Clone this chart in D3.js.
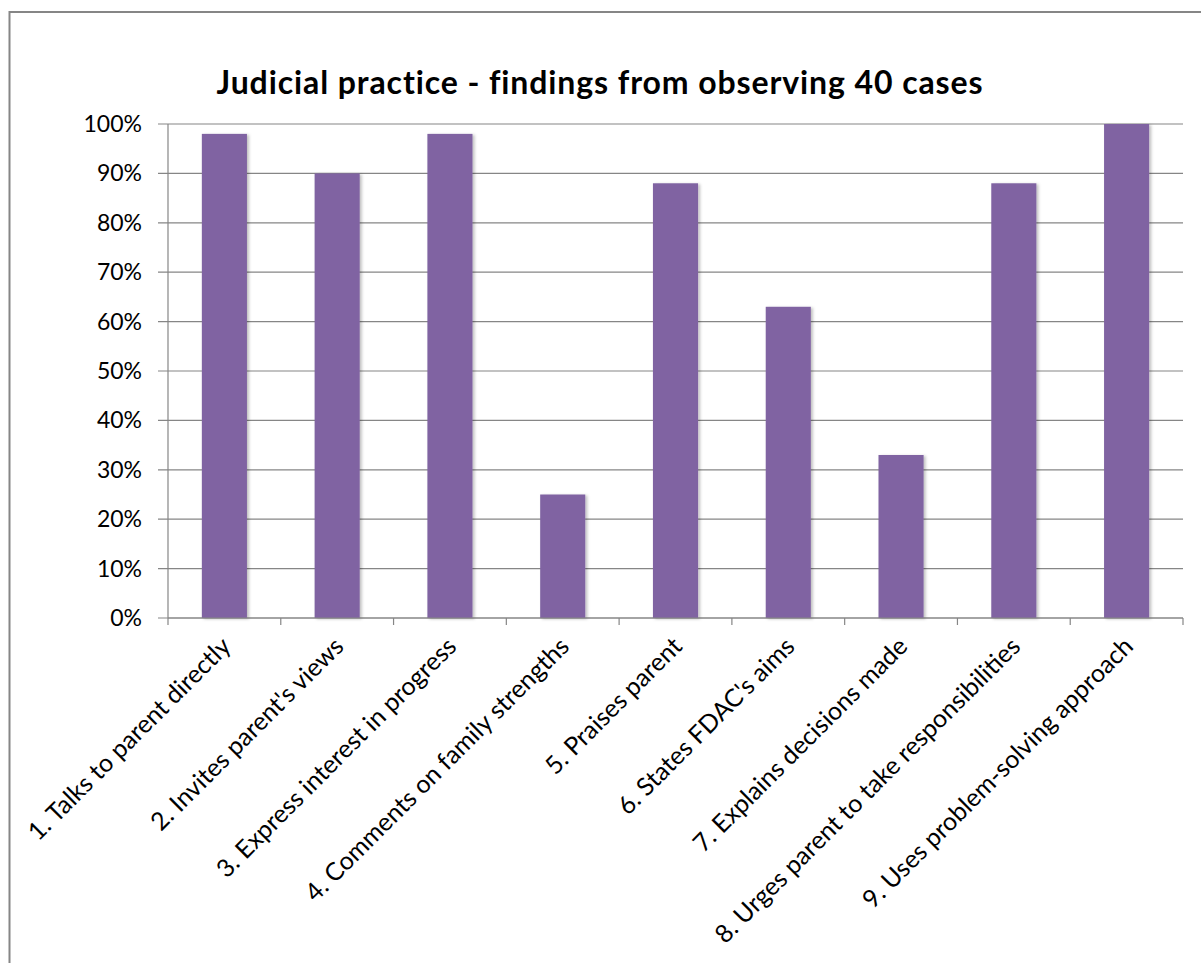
<!DOCTYPE html>
<html>
<head>
<meta charset="utf-8">
<script src="https://cdn.jsdelivr.net/npm/d3@7"></script>
<style>
  body { margin: 0; background: #fff; }
  svg { display: block; }
</style>
</head>
<body>
<div id="chart"></div>
<script>
const categories = [
    "1. Talks to parent directly",
    "2. Invites parent's views",
    "3. Express interest in progress",
    "4. Comments on family strengths",
    "5. Praises parent",
    "6. States FDAC's aims",
    "7. Explains decisions made",
    "8. Urges parent to take responsibilities",
    "9. Uses problem-solving approach"
];
const values = [0.98, 0.90, 0.98, 0.25, 0.88, 0.63, 0.33, 0.88, 1.00];
const yTicks = [0, 0.1, 0.2, 0.3, 0.4, 0.5, 0.6, 0.7, 0.8, 0.9, 1.0];
const title = "Judicial practice - findings from observing 40 cases";

const width = 1201, height = 963;
const plotLeft = 168, plotRight = 1183, plotTop = 124, plotBottom = 618;
const font = "Lato, 'Open Sans', 'Liberation Sans', sans-serif";
const gray = "#868686";

const svg = d3.select("#chart")
    .append("svg")
    .attr("width", width)
    .attr("height", height);

// outer chart frame (right/bottom fall outside the window)
svg.append("rect")
    .attr("x", 9.5)
    .attr("y", 12)
    .attr("width", 1220)
    .attr("height", 1000)
    .attr("fill", "#fff")
    .attr("stroke", gray)
    .attr("stroke-width", 2);

const defs = svg.append("defs");
const shadow = defs.append("filter")
    .attr("id", "shadow")
    .attr("x", "-20%").attr("y", "-5%")
    .attr("width", "150%").attr("height", "115%");
shadow.append("feDropShadow")
    .attr("dx", 2).attr("dy", 1)
    .attr("stdDeviation", 1.5)
    .attr("flood-color", "#000")
    .attr("flood-opacity", 0.25);

const x = d3.scaleBand()
    .domain(categories)
    .range([plotLeft, plotRight])
    .paddingInner(0.6)
    .paddingOuter(0.3);

const y = d3.scaleLinear()
    .domain([0, 1])
    .range([plotBottom, plotTop]);

// gridlines
svg.append("g")
    .selectAll("line")
    .data(yTicks)
    .enter().append("line")
    .attr("x1", plotLeft - 10)
    .attr("x2", plotRight)
    .attr("y1", d => y(d))
    .attr("y2", d => y(d))
    .attr("stroke", gray)
    .attr("stroke-width", 1.2);

// y tick labels
svg.append("g")
    .selectAll("text")
    .data(yTicks)
    .enter().append("text")
    .attr("x", 142)
    .attr("y", d => y(d))
    .attr("dy", "0.35em")
    .attr("text-anchor", "end")
    .style("font-family", font)
    .style("font-size", "23px")
    .attr("fill", "#000")
    .text(d => d3.format(".0%")(d));

// y axis line
svg.append("line")
    .attr("x1", plotLeft).attr("x2", plotLeft)
    .attr("y1", plotTop).attr("y2", plotBottom)
    .attr("stroke", gray)
    .attr("stroke-width", 1.2);

// bars
svg.append("g")
    .selectAll("rect")
    .data(values)
    .enter().append("rect")
    .attr("x", (d, i) => x(categories[i]))
    .attr("y", d => y(d))
    .attr("width", x.bandwidth())
    .attr("height", d => plotBottom - y(d))
    .attr("fill", "#8064A2")
    .attr("filter", "url(#shadow)");

// x axis line and ticks
svg.append("line")
    .attr("x1", plotLeft).attr("x2", plotRight)
    .attr("y1", plotBottom).attr("y2", plotBottom)
    .attr("stroke", gray)
    .attr("stroke-width", 1.2);

const step = x.step();
const tickXs = d3.range(categories.length + 1).map(i => plotLeft + i * step);
svg.append("g")
    .selectAll("line")
    .data(tickXs)
    .enter().append("line")
    .attr("x1", d => d).attr("x2", d => d)
    .attr("y1", plotBottom).attr("y2", plotBottom + 7)
    .attr("stroke", gray)
    .attr("stroke-width", 1.2);

// category labels, rotated
svg.append("g")
    .selectAll("text")
    .data(categories)
    .enter().append("text")
    .attr("transform", d => {
        const cx = x(d) + x.bandwidth() / 2 + 8;
        return "translate(" + cx + "," + (plotBottom + 30) + ") rotate(-45)";
    })
    .attr("text-anchor", "end")
    .style("font-family", font)
    .style("font-size", "25px")
    .attr("fill", "#000")
    .text(d => d);

// title
svg.append("text")
    .attr("x", 600)
    .attr("y", 94)
    .attr("text-anchor", "middle")
    .style("font-family", font)
    .style("font-size", "32px")
    .style("font-weight", "bold")
    .style("letter-spacing", "0.9px")
    .attr("fill", "#000")
    .text(title);
</script>
</body>
</html>
